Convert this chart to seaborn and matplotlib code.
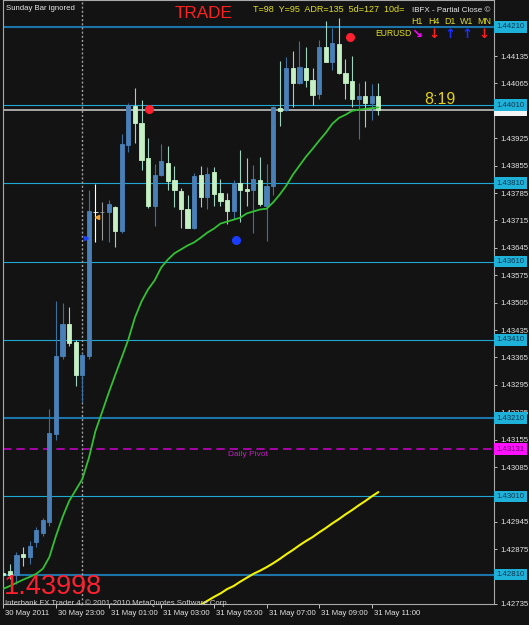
import matplotlib
matplotlib.use("Agg")
import matplotlib.pyplot as plt
import matplotlib.transforms as mtransforms
import numpy as np
import pandas as pd
import seaborn as sns

# EURUSD M15 bars, 30 May 2011 21:00 -> 31 May 11:15
opens = [1.42815, 1.42820, 1.42810, 1.42862, 1.42856, 1.42894, 1.42917, 1.42945,
         1.43169, 1.43368, 1.43450, 1.43404, 1.43320, 1.43368, 1.43737, 1.43736,
         1.43736, 1.43749, 1.43689, 1.43909, 1.44008, 1.43965, 1.43875, 1.43753,
         1.43832, 1.43862, 1.43819, 1.43791, 1.43745, 1.43697, 1.43830, 1.43774,
         1.43839, 1.43784, 1.43767, 1.43738, 1.43811, 1.43796, 1.43794, 1.43819,
         1.43751, 1.43804, 1.44003, 1.43996, 1.44104, 1.44066, 1.44104, 1.44074,
         1.44039, 1.44157, 1.44121, 1.44166, 1.44091, 1.44072, 1.44025, 1.44034,
         1.44015, 1.44034]
highs = [1.42830, 1.42838, 1.42868, 1.42881, 1.42897, 1.42932, 1.42955, 1.43233,
         1.43509, 1.43503, 1.43495, 1.43409, 1.43376, 1.43794, 1.43809, 1.43761,
         1.43767, 1.43753, 1.43937, 1.44016, 1.44053, 1.44022, 1.43926, 1.43858,
         1.43911, 1.43906, 1.43855, 1.43798, 1.43779, 1.43835, 1.43853, 1.43851,
         1.43851, 1.43821, 1.43785, 1.43818, 1.43896, 1.43875, 1.43856, 1.43877,
         1.43859, 1.44007, 1.44123, 1.44132, 1.44148, 1.44174, 1.44159, 1.44104,
         1.44176, 1.44225, 1.44206, 1.44232, 1.44127, 1.44134, 1.44066, 1.44072,
         1.44063, 1.44067]
lows = [1.42774, 1.42799, 1.42787, 1.42832, 1.42838, 1.42881, 1.42909, 1.42935,
        1.43154, 1.43360, 1.43394, 1.43292, 1.43251, 1.43360, 1.43661, 1.43666,
        1.43659, 1.43646, 1.43682, 1.43889, 1.43914, 1.43845, 1.43747, 1.43702,
        1.43828, 1.43794, 1.43750, 1.43696, 1.43696, 1.43694, 1.43749, 1.43743,
        1.43751, 1.43751, 1.43705, 1.43719, 1.43710, 1.43751, 1.43683, 1.43751,
        1.43662, 1.43781, 1.43957, 1.43995, 1.44004, 1.44064, 1.44057, 1.44011,
        1.44025, 1.44120, 1.44100, 1.44090, 1.44025, 1.44005, 1.43923, 1.43954,
        1.43972, 1.43985]
closes = [1.42810, 1.42810, 1.42861, 1.42855, 1.42884, 1.42925, 1.42950, 1.43171,
          1.43369, 1.43450, 1.43401, 1.43320, 1.43371, 1.43738, 1.43736, 1.43737,
          1.43756, 1.43689, 1.43910, 1.44011, 1.43964, 1.43869, 1.43753, 1.43832,
          1.43868, 1.43817, 1.43794, 1.43745, 1.43697, 1.43828, 1.43774, 1.43834,
          1.43783, 1.43764, 1.43740, 1.43811, 1.43794, 1.43791, 1.43821, 1.43756,
          1.43804, 1.44006, 1.43995, 1.44104, 1.44066, 1.44106, 1.44073, 1.44036,
          1.44157, 1.44121, 1.44168, 1.44091, 1.44066, 1.44025, 1.44034, 1.44015,
          1.44034, 1.43998]
# green moving average
ma_line = [1.42774, 1.42781, 1.42789, 1.42797, 1.42804, 1.42812, 1.42825, 1.42855,
           1.42909, 1.42957, 1.42998, 1.43026, 1.43054, 1.43108, 1.43177, 1.43225,
           1.43274, 1.43320, 1.43365, 1.43411, 1.43467, 1.43508, 1.43539, 1.43562,
           1.43595, 1.43615, 1.43631, 1.43641, 1.43651, 1.43659, 1.43671, 1.43684,
           1.43694, 1.43707, 1.43712, 1.43717, 1.43722, 1.43733, 1.43738, 1.43743,
           1.43745, 1.43761, 1.43781, 1.43804, 1.43832, 1.43855, 1.43878, 1.43898,
           1.43919, 1.43939, 1.43962, 1.43977, 1.43985, 1.43995, 1.43998, 1.44000,
           1.44002, 1.44004]
# yellow indicator, starts at bar 30
yellow_idx = list(range(30, 58))
yellow_line = [1.42733, 1.42743, 1.42753, 1.42762, 1.42773, 1.42781, 1.42792, 1.42802,
               1.42812, 1.42820, 1.42829, 1.42839, 1.42850, 1.42862, 1.42873, 1.42885,
               1.42896, 1.42906, 1.42918, 1.42929, 1.42941, 1.42952, 1.42964, 1.42975,
               1.42987, 1.42998, 1.43010, 1.43021]

round_levels = [1.44210, 1.44010, 1.43810, 1.43610, 1.43410, 1.43210, 1.43010, 1.42810]
strong_levels = [1.44210, 1.43210, 1.42810]
pivot = 1.43131
bid = 1.43998
price_ticks = [1.44135, 1.44065, 1.43925, 1.43855, 1.43785, 1.43715, 1.43645, 1.43575,
               1.43505, 1.43435, 1.43365, 1.43295, 1.43225, 1.43155, 1.43085, 1.42945,
               1.42875, 1.42735]
time_idx = [0, 8, 16, 24, 32, 40, 48, 56]
time_labels = ["30 May 2011", "30 May 23:00", "31 May 01:00", "31 May 03:00",
               "31 May 05:00", "31 May 07:00", "31 May 09:00", "31 May 11:00"]
day_sep = 12
red_dots_idx = [22.2, 52.7]
red_dots_px = [1.43999, 1.44185]
blue_dots_idx = [35.4]
blue_dots_px = [1.43664]

BG = "#131313"
BULL = "#4a80b8"
BULL_WICK = "#3f6f9f"
BEAR = "#c4f0c4"
BEAR_WICK = "#9fd3c0"

sns.set_theme(style="dark", rc={"axes.facecolor": BG, "figure.facecolor": BG})
plt.rcParams["font.family"] = ["Liberation Sans", "DejaVu Sans"]

bars = pd.DataFrame({"open": opens, "high": highs, "low": lows,
                     "close": closes, "ma": ma_line})
bars["idx"] = np.arange(len(bars))
bars["up"] = bars["close"] > bars["open"]

fig = plt.figure(figsize=(5.29, 6.25), dpi=100, facecolor=BG)
ax = fig.add_axes([3 / 529, 21 / 625, 491 / 529, 604 / 625])
ax.set_facecolor(BG)
ax.grid(False)

# level lines
for lvl in round_levels:
    if lvl in strong_levels:
        ax.axhline(lvl, color="#1c74a8", lw=1.5, zorder=1)
    else:
        ax.axhline(lvl, color="#1fa6d2", lw=0.8, zorder=1)
ax.axhline(pivot, color="#c000c0", lw=1.2, ls=(0, (5, 3)), zorder=1)
ax.axhline(bid, color="#a8a8a8", lw=1.4, zorder=1)
ax.axvline(day_sep, color="#a0a0a0", lw=1.0, ls=(0, (1.5, 1.5)), zorder=1)

# candles
wick_cols = ["#ffffff" if i == 14 else ("#9a9a9a" if i == 15 else
             (BULL_WICK if u else BEAR_WICK)) for i, u in zip(bars["idx"], bars["up"])]
ax.vlines(bars["idx"], bars["low"], bars["high"], colors=wick_cols, lw=0.8, zorder=2)
body_lo = bars[["open", "close"]].min(axis=1)
body_h = (bars["close"] - bars["open"]).abs()
body_cols = [BULL if u else BEAR for u in bars["up"]]
edge_cols = [c if i not in (14, 15) else w for i, c, w in zip(bars["idx"], body_cols, wick_cols)]
ax.bar(bars["idx"], body_h, bottom=body_lo, width=0.64, color=body_cols,
       edgecolor=edge_cols, linewidth=0.6, zorder=3)

# indicators
sns.lineplot(x=bars["idx"], y=bars["ma"], ax=ax, color="#34c034", lw=1.3, zorder=4)
sns.lineplot(x=yellow_idx, y=yellow_line, ax=ax, color="#f2f200", lw=1.5, zorder=4)

ax.plot(red_dots_idx, red_dots_px, "o", color="#ff2030", ms=5.5, zorder=5)
ax.plot(blue_dots_idx, blue_dots_px, "o", color="#1a3cff", ms=5.5, zorder=5)
ax.plot([12.6], [1.43669], ">", color="#2040ff", ms=3, zorder=5)
ax.plot([14.25], [1.43725], "<", color="#f0a030", ms=3, zorder=5)

ax.set_xlim(-0.05, 74.57)
ax.set_ylim(1.427381, 1.442783)
ax.set_xlabel("")
ax.set_ylabel("")

# price axis on the right
ax.yaxis.tick_right()
ax.set_yticks(price_ticks)
ax.set_yticklabels([f"{p:.5f}" for p in price_ticks])
ax.tick_params(axis="y", which="both", right=True, left=False, length=2.5, width=0.7,
               color="#c0c0c0", labelcolor="#e4e4e4", labelsize=5.6, pad=2)

# time axis
ax.set_xticks(time_idx)
ax.set_xticklabels(time_labels)
ax.tick_params(axis="x", bottom=True, length=3, width=0.7, color="#c0c0c0",
               labelcolor="#e4e4e4", labelsize=5.6, pad=1.5)
shift = mtransforms.ScaledTranslation(1.5 / 72, 0, fig.dpi_scale_trans)
for lbl in ax.get_xticklabels():
    lbl.set_ha("left")
    lbl.set_transform(lbl.get_transform() + shift)

for side in ["left", "right", "bottom", "top"]:
    ax.spines[side].set_visible(True)
    ax.spines[side].set_color("#a8a8a8")
    ax.spines[side].set_linewidth(0.8)

# highlighted price boxes
def price_box(val, fc, tc, z):
    ax.annotate(f"{val:.5f}", xy=(1, val), xycoords=("axes fraction", "data"),
                xytext=(1.6, 0), textcoords="offset points", ha="left", va="center",
                fontsize=5.6, color=tc, annotation_clip=False, zorder=z,
                bbox=dict(boxstyle="square,pad=0.3", fc=fc, ec="none"))

price_box(bid, "#f4f4f4", "#202020", 6)
for lvl in round_levels:
    price_box(lvl, "#1fb2d8", "#0b3550", 7)
price_box(pivot, "#ff10ff", "#6a006a", 7)

# chart texts
ax.annotate("Daily Pivot", xy=(34.1, pivot), xytext=(0, -1.5), textcoords="offset points",
            ha="left", va="top", color="#c020c0", fontsize=6)
ax.text(63.9, 1.44025, "8:19", color="#e2d11a", fontsize=11.5, ha="left", va="center")


def fx(px):
    return px / 529


def fy(py):
    return 1 - py / 625


fig.text(fx(6), fy(8), "Sunday Bar ignored", color="#e8e8e8", fontsize=5.6,
         ha="left", va="center")
fig.text(fx(175), fy(13), "TRADE", color="#ff2020", fontsize=12.3, ha="left", va="center")
fig.text(fx(253), fy(10), "T=98  Y=95  ADR=135  5d=127  10d=", color="#e0e020",
         fontsize=6.5, ha="left", va="center")
fig.text(fx(490), fy(10), "IBFX - Partial Close \u00a9", color="#e8e8e8",
         fontsize=5.8, ha="right", va="center")
tf_names = ["H1", "H4", "D1", "W1", "MN"]
tf_x = [417, 434, 450, 467, 484]
tf_arrows = ["\u2198", "\u2193", "\u2191", "\u2191", "\u2193"]
tf_cols = ["#ff00ff", "#ff2020", "#1a30ff", "#1a30ff", "#ff2020"]
for name, x, arr, col in zip(tf_names, tf_x, tf_arrows, tf_cols):
    fig.text(fx(x), fy(21), name, color="#e0e020", fontsize=6.4, ha="center", va="center")
    fig.text(fx(x), fy(34), arr, color=col, fontsize=9.5, fontweight="bold",
             family=["DejaVu Sans"], ha="center", va="center")
fig.text(fx(375), fy(34), "EURUSD", color="#e0e020", fontsize=6.2, ha="left", va="center")

fig.text(fx(4), fy(587), "1.43998", color="#ff2030", fontsize=19.5, ha="left", va="center")
fig.text(fx(5), fy(603), "Interbank FX Trader 4, \u00a9 2001-2010 MetaQuotes Software Corp.",
         color="#d0d0d0", fontsize=5.6, ha="left", va="center")

fig.savefig("out.png", dpi=100, facecolor=BG)
